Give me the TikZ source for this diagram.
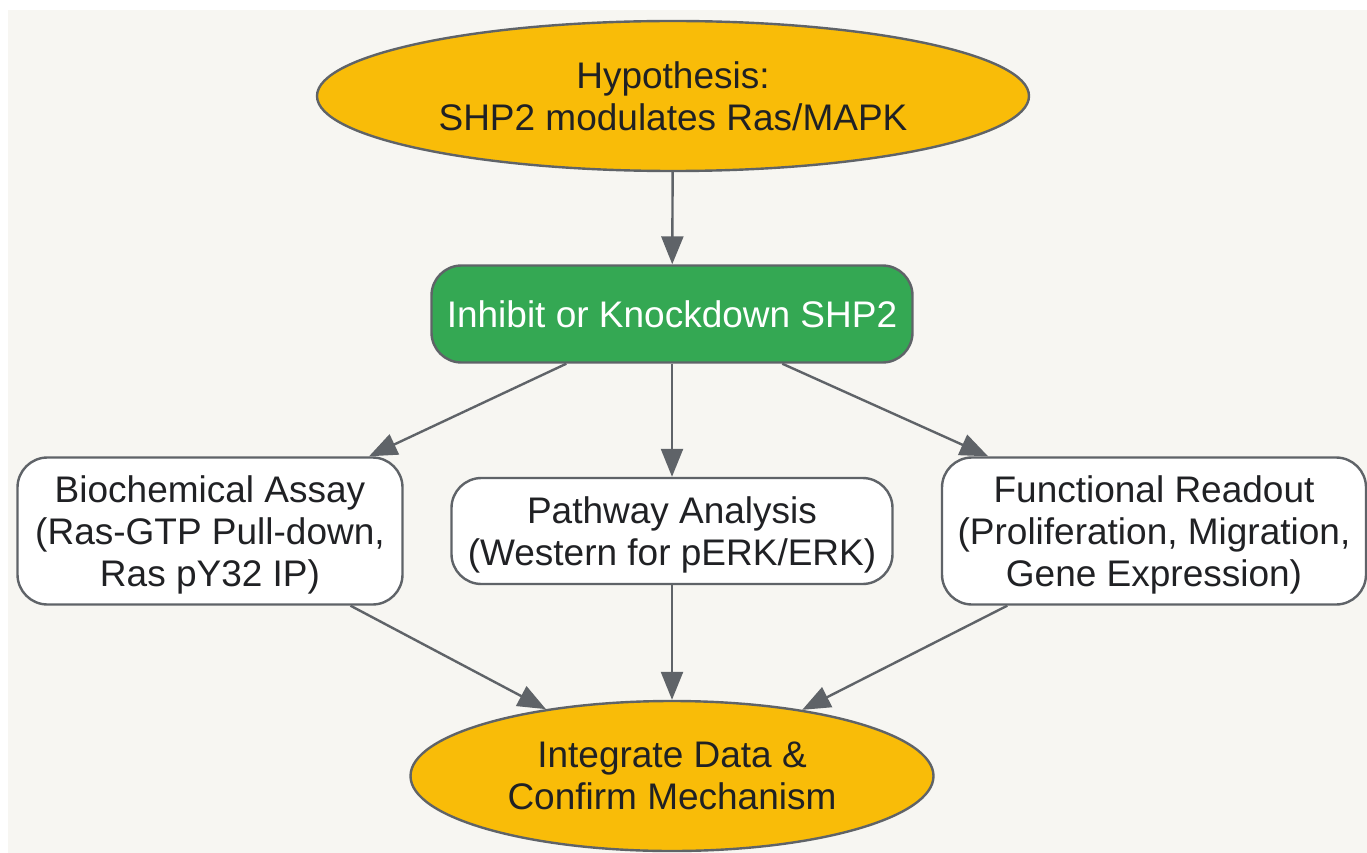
\documentclass[tikz,border=0pt]{standalone}
\usepackage{fontspec}
\setmainfont{Liberation Sans}
\usetikzlibrary{shapes.geometric,arrows.meta}
\definecolor{bgcream}{HTML}{F7F6F2}
\definecolor{goldfill}{HTML}{F9BC08}
\definecolor{greenfill}{HTML}{34A853}
\definecolor{edgegray}{HTML}{5F6368}
\definecolor{textdark}{HTML}{202124}

\begin{document}
\begin{tikzpicture}
        [x=1pt,y=-1pt,auto=left]
            \tikzstyle{every node}=[draw=edgegray, line width=2.4pt, text=textdark,
        align=center, inner sep=0pt, font=\fontsize{37}{42}\selectfont]
            \tikzstyle{goal}=[ellipse, fill=goldfill]
            \tikzstyle{assay}=[rectangle, rounded corners=30pt, fill=white]
            \tikzstyle{readout}=[assay, text depth=0pt]
            \tikzstyle{link}=[draw=edgegray, line width=2.4pt, -{Triangle[length=28pt,width=22pt]}]

        \useasboundingbox (0,0) rectangle (1367,853);
        \fill[bgcream] (8,10) rectangle (1367,853);

        %-----hypothesis
         \node[goal, minimum width=712pt, minimum height=150pt]  (HYP) at (673,96) {Hypothesis:\\SHP2 modulates Ras/MAPK};
        %-----perturbation
         \node[assay, fill=greenfill, text=white, minimum width=481pt, minimum height=97pt]  (KD) at (672,314) {Inhibit or Knockdown SHP2};
        %-----readouts
         \node[readout, minimum width=385pt, minimum height=147pt]  (BIO) at (210,531) {Biochemical Assay\\(Ras-GTP Pull-down,\\Ras pY32 IP)};
         \node[readout, minimum width=441pt, minimum height=106pt]  (PWY) at (672,531) {Pathway Analysis\\(Western for pERK/ERK)};
         \node[readout, minimum width=424pt, minimum height=147pt]  (FUN) at (1154,531) {Functional Readout\\(Proliferation, Migration,\\Gene Expression)};
        %-----conclusion
         \node[goal, minimum width=523pt, minimum height=150pt]  (INT) at (672,776) {Integrate Data \&\\Confirm Mechanism};

         \foreach \from/\to in {HYP/KD,KD/BIO,KD/PWY,KD/FUN,BIO/INT,PWY/INT,FUN/INT}
         \draw[link] (\from) -- (\to);

        \end{tikzpicture}
\end{document}
